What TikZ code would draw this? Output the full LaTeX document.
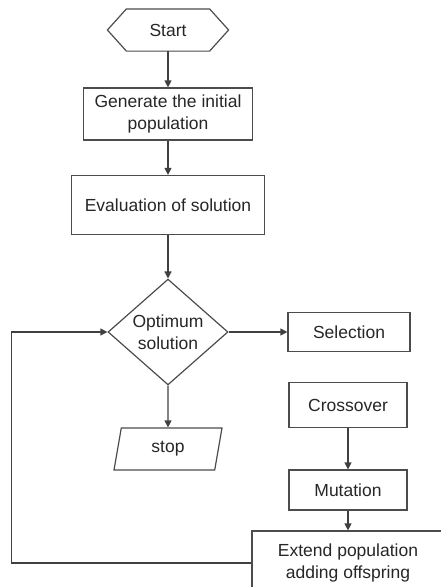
\documentclass[tikz,border=0pt]{standalone}
\usepackage{fontspec}
\setmainfont{Liberation Sans}
\usetikzlibrary{shapes.geometric,arrows.meta}
\begin{document}
\begin{tikzpicture}[x=1pt,y=-1pt,
    font=\fontsize{17.5}{22}\selectfont, text=black!85,
    box/.style={draw=black!70, line width=1.2pt, align=center, inner sep=0pt},
    arr/.style={draw=black!75, line width=1.2pt, -{Triangle[length=7pt,width=7pt]}}]

        \clip (0,0) rectangle (441,587);

        \node[box, draw=none, minimum width=120pt, minimum height=41pt] (start) at (168,30) {Start};
        \draw[black!70, line width=1.2pt] (start.west) -- ([xshift=19pt]start.north west) -- ([xshift=-19pt]start.north east)
            -- (start.east) -- ([xshift=-19pt]start.south east) -- ([xshift=19pt]start.south west) -- cycle;

        \node[box, minimum width=169pt, minimum height=52pt] (init) at (168,114) {Generate the initial\\population};
        \node[box, minimum width=193pt, minimum height=59pt] (eval) at (168,205) {Evaluation of solution};
        \node[box, diamond, minimum width=120pt, minimum height=100pt] (optimum) at (168,332) {Optimum\\solution};
        \node[box, trapezium, trapezium left angle=64, trapezium right angle=116, trapezium stretches body,
              minimum width=108pt, minimum height=42pt] (stop) at (168,449) {stop};

        \node[box, minimum width=122pt, minimum height=39pt] (select) at (349,332) {Selection};
        \node[box, minimum width=118pt, minimum height=45pt] (cross) at (348,405) {Crossover};
        \node[box, minimum width=118pt, minimum height=40pt] (mutate) at (348,490) {Mutation};
        \node[box, minimum width=192pt, minimum height=64pt] (extend) at (348,563) {Extend population\\adding offspring};

        \draw[arr] (start.south) -- (init.north);
        \draw[arr] (init.south) -- (eval.north);
        \draw[arr] (eval.south) -- (optimum.north);
        \draw[arr] (optimum.east) -- (select.west);
        \draw[arr] (optimum.south) -- (stop.north);
        \draw[arr] (cross.south) -- (mutate.north);
        \draw[arr] (mutate.south) -- (extend.north);
        \draw[arr] (extend.west) -- ++(-240,0) |- (optimum.west);

\end{tikzpicture}
\end{document}
